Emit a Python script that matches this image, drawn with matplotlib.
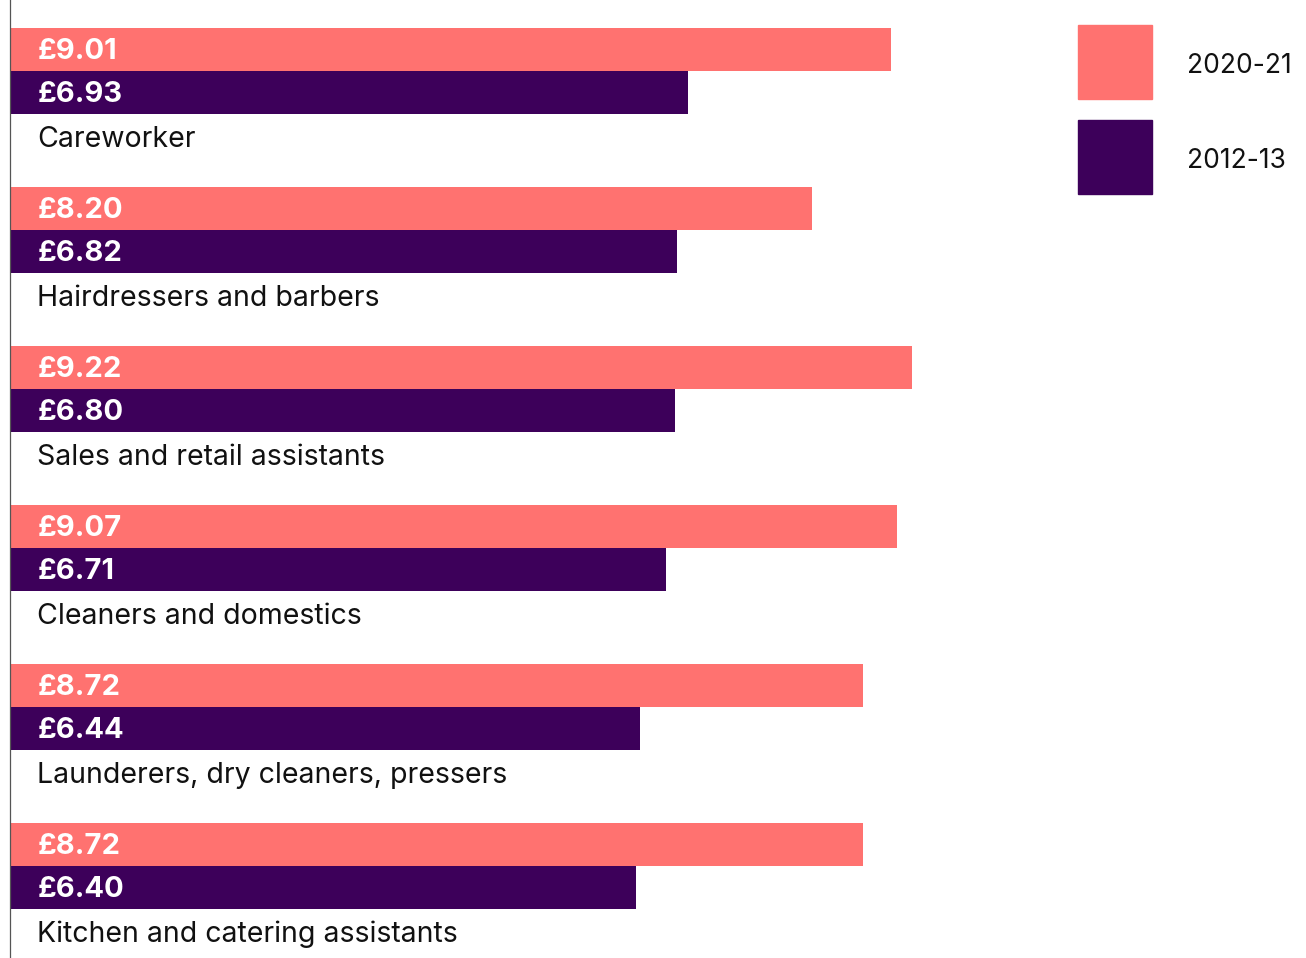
import matplotlib
matplotlib.use("Agg")
import matplotlib.pyplot as plt
from matplotlib.patches import Rectangle

# Median hourly pay by occupation
jobs = [
    "Careworker",
    "Hairdressers and barbers",
    "Sales and retail assistants",
    "Cleaners and domestics",
    "Launderers, dry cleaners, pressers",
    "Kitchen and catering assistants",
]
pay_2020 = [9.01, 8.20, 9.22, 9.07, 8.72, 8.72]
pay_2012 = [6.93, 6.82, 6.80, 6.71, 6.44, 6.40]
years = ["2020-21", "2012-13"]

coral = "#ff7270"
purple = "#3d005a"

plt.rcParams["font.family"] = ["Inter", "DejaVu Sans"]

fig = plt.figure(figsize=(13.06, 9.58), dpi=100)
ax = fig.add_axes([10 / 1306, 0, 1296 / 1306, 1])

bar_h = 0.27
for i in range(len(jobs)):
    ax.barh(i - bar_h / 2, pay_2020[i], height=bar_h, color=coral)
    ax.barh(i + bar_h / 2, pay_2012[i], height=bar_h, color=purple)

    # value labels inside the bars
    ax.text(0.28, i - bar_h / 2 + 0.015, "£%.2f" % pay_2020[i], color="white",
            fontsize=21, fontweight="bold", va="center", ha="left")
    ax.text(0.28, i + bar_h / 2 + 0.015, "£%.2f" % pay_2012[i], color="white",
            fontsize=21, fontweight="bold", va="center", ha="left")

    # occupation name under each pair
    ax.text(0.28, i + 0.43, jobs[i], color="#111111", fontsize=20.5,
            va="center", ha="left")

ax.set_xlim(0, 1296 / 97.8)
ax.set_ylim(5.579, -0.447)
ax.set_xticks([])
ax.set_yticks([])
for side in ["top", "right", "bottom"]:
    ax.spines[side].set_visible(False)
ax.spines["left"].set_color("#555555")
ax.spines["left"].set_linewidth(0.9)

# legend squares on the right
legend_colors = [coral, purple]
for k in range(len(years)):
    top = 25 + k * 95
    fig.add_artist(Rectangle((1078 / 1306, 1 - (top + 74) / 958), 74 / 1306, 74 / 958,
                             transform=fig.transFigure, color=legend_colors[k]))
    fig.text(1187 / 1306, 1 - (top + 41) / 958, years[k], fontsize=19,
             color="#111111", va="center", ha="left")

fig.savefig("out.png", dpi=100)
